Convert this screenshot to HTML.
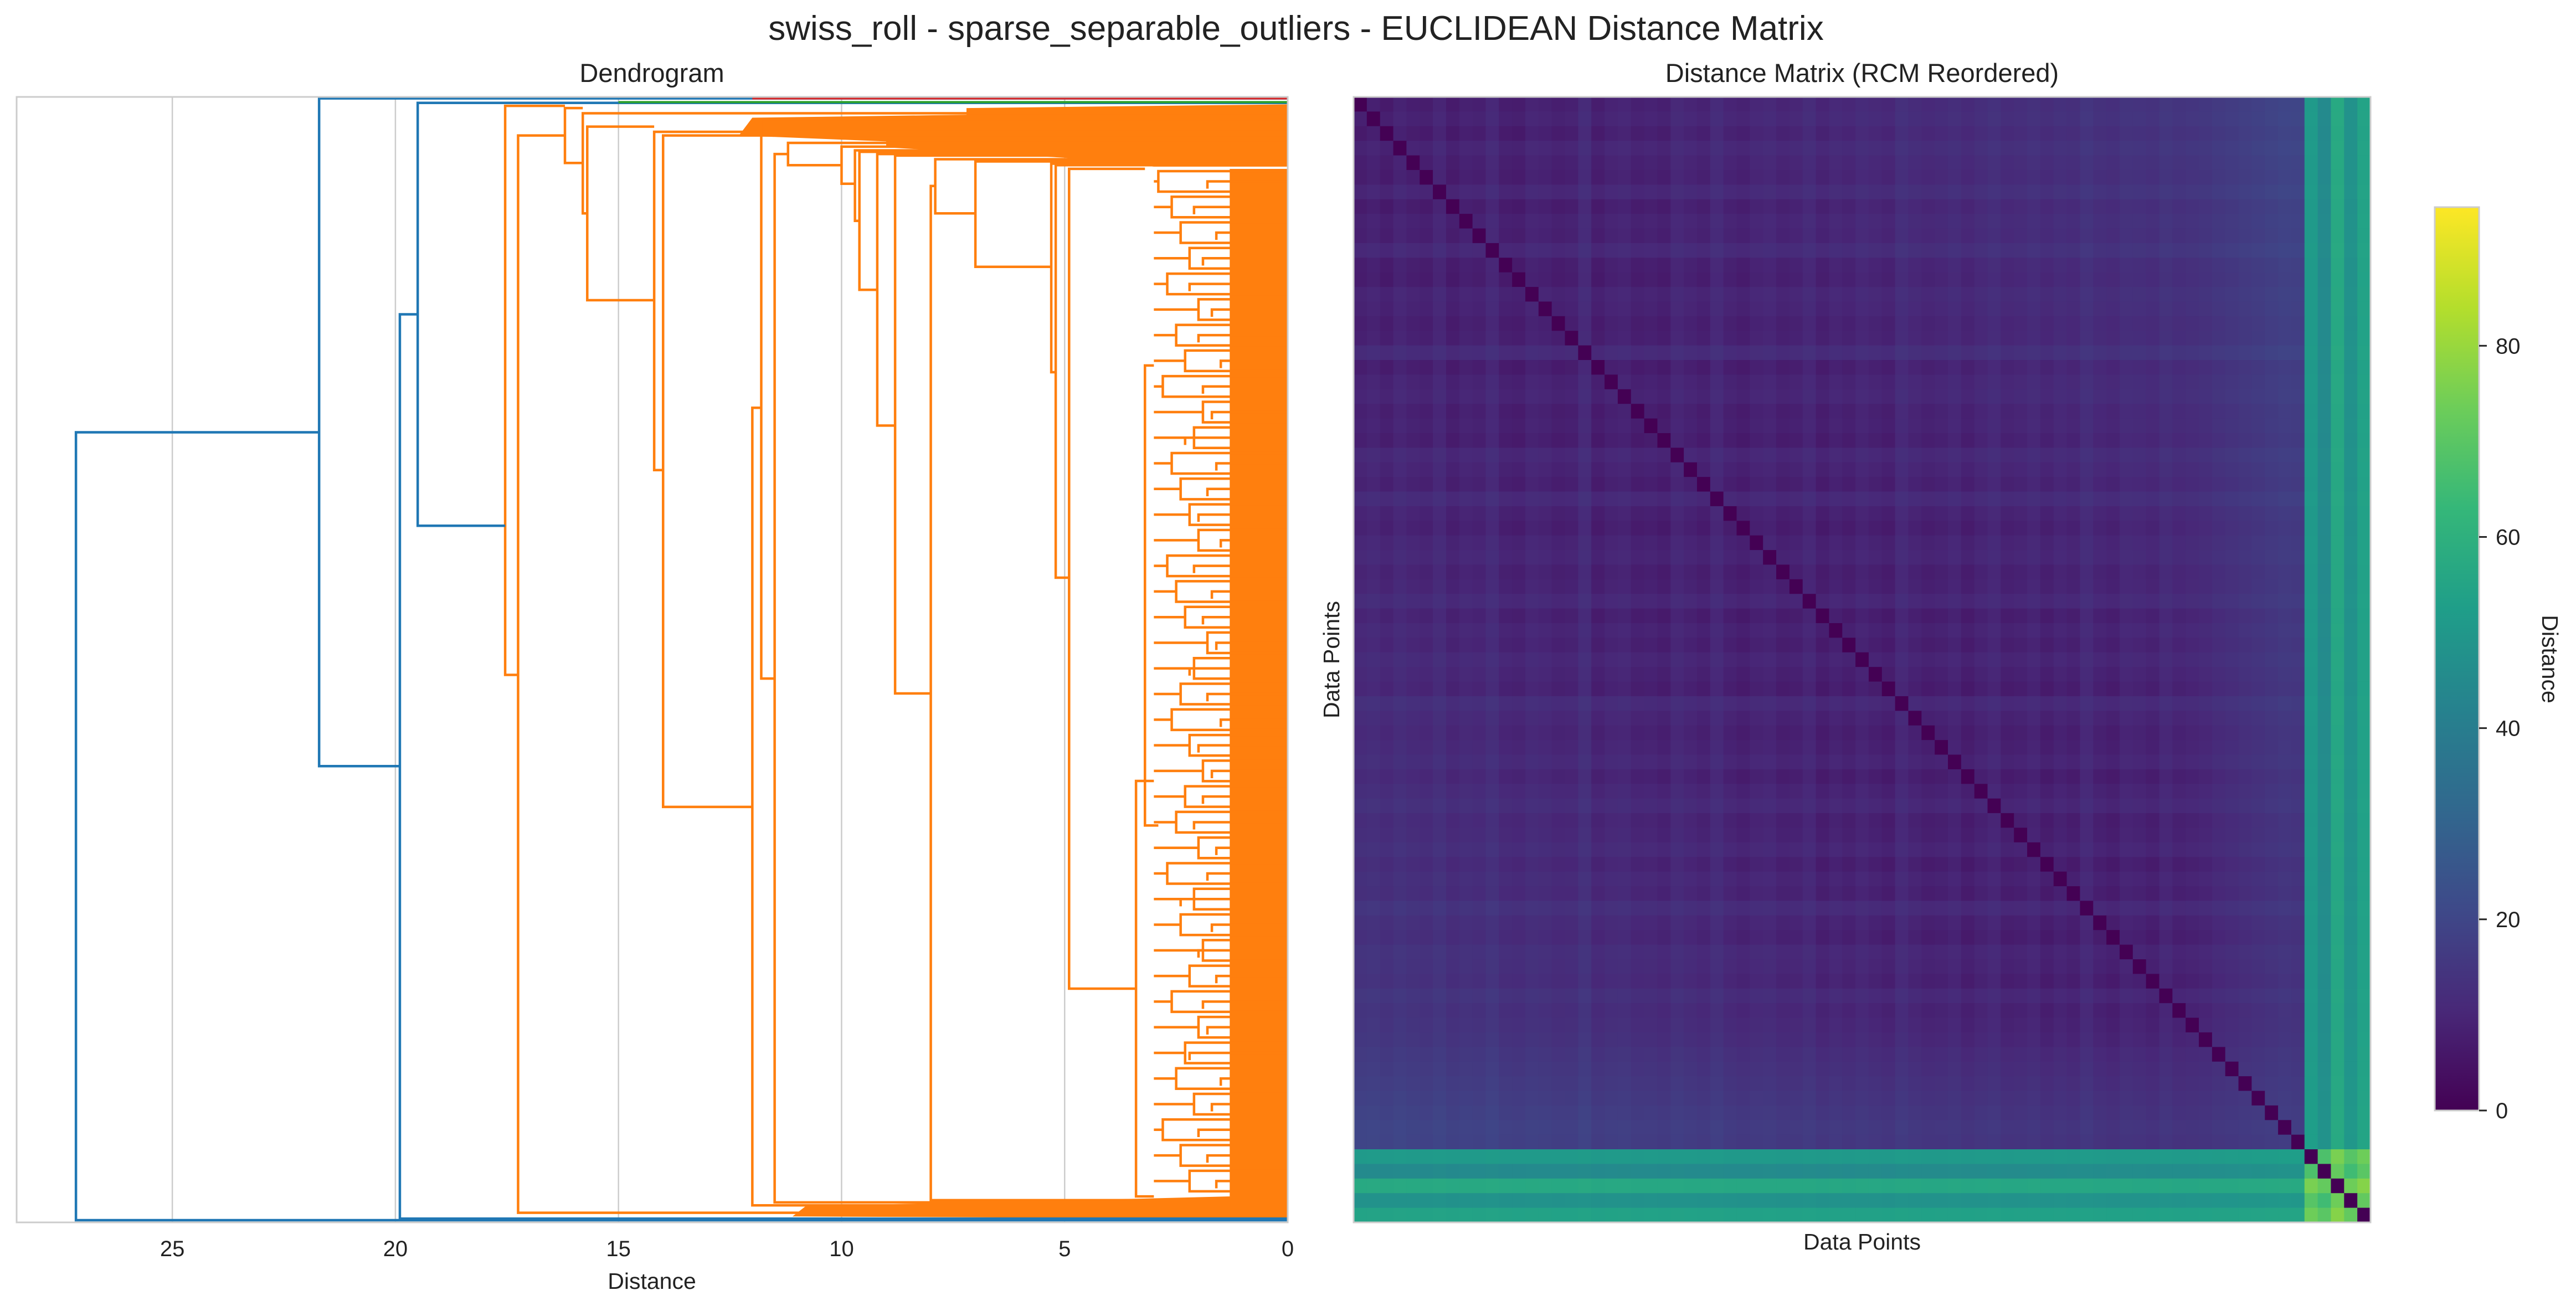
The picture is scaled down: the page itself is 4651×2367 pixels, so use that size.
<!DOCTYPE html>
<html><head><meta charset="utf-8">
<style>
html,body{margin:0;padding:0;background:#fff;}
svg{display:block;font-family:"Liberation Sans","DejaVu Sans",sans-serif;}
</style></head>
<body>
<svg id="fig" width="4651" height="2367" viewBox="0 0 4651 2367" xmlns="http://www.w3.org/2000/svg">
<rect width="4651" height="2367" fill="#fff"/>
<text x="2340" y="72" font-size="62" text-anchor="middle" fill="#222">swiss_roll - sparse_separable_outliers - EUCLIDEAN Distance Matrix</text>
<text x="1177" y="148" font-size="47" text-anchor="middle" fill="#222">Dendrogram</text>
<text x="3362" y="148" font-size="47" text-anchor="middle" fill="#222">Distance Matrix (RCM Reordered)</text>
<g id="dendro"></g>
<g id="heat"></g>
<g id="cbar"></g>
<text x="1177" y="2327" font-size="41" text-anchor="middle" fill="#222">Distance</text>
<text x="3362" y="2256" font-size="41" text-anchor="middle" fill="#222">Data Points</text>
<text x="0" y="0" font-size="41" text-anchor="middle" fill="#222" transform="translate(2418,1191) rotate(-90)">Data Points</text>
<text x="0" y="0" font-size="41" text-anchor="middle" fill="#222" transform="translate(4590,1190) rotate(90)">Distance</text>
</svg>
<script>
// ---------- Dendrogram data ----------
const dendroTicks = [0, 5, 10, 15, 20, 25];
// links: [height, yTop(leaf units), childHeightTop, yBottom, childHeightBottom]
const blueLinks = [
  [27.16, 470, 21.71, 1532, 0],
  [21.71, 20, 0, 920, 19.9],
  [19.9, 311, 19.5, 1530, 0],
  [19.5, 26, 0, 596, 17.54]
];
const orangeLinks = [
  [17.54, 30, 16.2, 797, 17.25],
  [17.25, 70, 16.2, 1522, 0],
  [16.2, 33, 15.8, 107, 15.8],
  [15.8, 40, 0, 175, 15.7],
  [15.7, 58, 14.2, 292, 14.2],
  [14.2, 65, 0, 521, 14.0],
  [14.0, 70, 0, 975, 12.0],
  [12.0, 437, 11.8, 1512, 0],
  [11.8, 48, 0, 802, 11.5],
  [11.5, 95, 11.2, 1508, 0],
  [11.2, 80, 0, 110, 10.0],
  [10.0, 85, 0, 135, 9.7],
  [9.7, 90, 0, 185, 9.6],
  [9.6, 92, 0, 278, 9.2],
  [9.2, 95, 0, 461, 8.8],
  [8.8, 97, 0, 822, 8.0],
  [8.0, 138, 7.9, 1505, 3.3],
  [7.9, 102, 0, 175, 7.0],
  [7.0, 105, 0, 247, 5.3],
  [5.3, 108, 0, 389, 5.2],
  [5.2, 110, 0, 666, 4.9],
  [4.9, 115, 3.2, 1220, 3.4],
  [3.4, 940, 3.0, 1500, 3.0],
  [3.2, 380, 3.0, 1000, 2.9]
];
const subClusterHeights = [2.9,2.6,2.4,2.2,2.7,2.0,2.5,2.3,2.8,1.9,2.1,2.6,2.4,2.2,2.0,2.7,2.5,2.3,1.8,2.1,2.4,2.6,2.2,1.9,2.3,2.5,2.0,2.7,2.1,2.4,1.9,2.2,2.6,2.0,2.3,2.5,2.1,2.8,2.4,2.2];
const subSubHeights = [1.8,2.1,1.6,1.9,2.2,1.7,2.0,1.5,1.9,1.7,2.3,1.6,1.8,2.0,1.5,2.1,1.7,1.9,1.6,2.2,1.8,1.5,2.0,1.7,1.9,2.1,1.6,1.8,2.4,1.7,2.0,1.6,1.9,1.8,2.2,1.5,1.7,2.0,1.8,1.6];
const topMass = [[0,28],[7.2,33],[7.2,42],[12,46],[12.3,70],[9,78],[9,86],[5,100],[3,112],[0,112]];
const bottomMass = [[0,1498],[3.3,1503],[10.8,1513],[11.1,1527],[0,1530]];

// ---------- Heatmap data ----------
const mainPositions = [0,0.5,1.2,1.6,2.4,2.9,3.1,3.8,4.5,4.9,5.6,6.0,6.4,7.3,7.7,8.2,8.9,9.4,9.8,10.5,11.0,11.4,12.1,12.6,13.0,13.8,14.1,14.7,15.3,15.8,16.5,16.9,17.2,18.0,18.6,19.1,19.5,20.2,20.8,21.3,21.7,22.5,23.0,23.4,24.1,24.7,25.2,25.6,26.4,26.9,27.3,28.0,28.6,29.1,29.5,30.2,30.8,31.4,31.9,32.5,33.0,33.6,34.2,34.8,35.5,36.2,37.0,38.1,39.0,40.2,41.5,42.4];
const mainOffsets = [7,9,6,10,8,7,11,6,9,8,12,7,6,10,9,7,8,13,6,9,10,7,8,6,11,9,7,12,8,6,9,10,7,8,11,6,9,7,10,8,6,12,9,7,8,10,6,9,11,7,8,10,6,9,7,12,8,6,10,9,7,11,8,9,10,12,13,14,15,16,17,16];
const outlierPositions = [20,5,33,12,28];
const outlierOffsets = [68,60,75,64,72];
const colorbarTicks = [0, 20, 40, 60, 80];
const vmax = 94.5;

const NS = "http://www.w3.org/2000/svg";
function mk(tag, attrs, parent){const e=document.createElementNS(NS,tag);for(const k in attrs)e.setAttribute(k,attrs[k]);parent.appendChild(e);return e;}

// ---------- Dendrogram ----------
const D = {l:30, r:2325, t:175, b:2207, dmax:28.49};
const xD = d => D.r - d/D.dmax*(D.r-D.l);
const yD = z => D.t + (z-18)/1517*(D.b-D.t);
const dg = document.getElementById('dendro');
dendroTicks.forEach(t=>{
  if(t>0){const g=mk('line',{x1:xD(t),x2:xD(t),y1:D.t,y2:D.b,stroke:'#cccccc','stroke-width':2.5},dg);
  
  }
  const tx=mk('text',{x:xD(t),y:2268,'font-size':40,'text-anchor':'middle',fill:'#222'},dg);
  tx.textContent=t;
  
  
});
function drawMass(pts){
  const p=mk('polygon',{points:pts.map(q=>xD(q[0])+','+yD(q[1])).join(' '),fill:'#ff7f0e'},dg);
  
  
}
drawMass(topMass); drawMass(bottomMass);
const leafBlock=mk('rect',{x:xD(1.3),y:yD(115),width:xD(0)-xD(1.3),height:yD(1500)-yD(115),fill:'#ff7f0e'},dg);


const nSub=subClusterHeights.length;
subClusterHeights.forEach((h,i)=>{
  const z1=118+(1500-118)*i/nSub, z2=118+(1500-118)*(i+0.8)/nSub;
  const h2=subSubHeights[i];
  const zm=(z1+z2)/2;
  const p=mk('path',{d:`M${xD(0)},${yD(z1)}H${xD(h)}V${yD(z2)}H${xD(0)}M${xD(0)},${yD(zm)}H${xD(h2)}V${yD(z2-4)}`,fill:'none',stroke:'#ff7f0e','stroke-width':4.5},dg);
  
  
  const p2=mk('path',{d:`M${xD(h)},${yD(zm)}H${xD(3.0)}`,fill:'none',stroke:'#ff7f0e','stroke-width':4.5},dg);
  
  
});
function drawLinks(arr,color,name){
  arr.forEach(L=>{
    const p=mk('path',{d:`M${xD(L[2])},${yD(L[1])}H${xD(L[0])}V${yD(L[3])}H${xD(L[4])}`,fill:'none',stroke:color,'stroke-width':4.5},dg);
    
    
  });
}
drawLinks(orangeLinks,'#ff7f0e','dendrogram-link-orange');
drawLinks(blueLinks,'#1f77b4','dendrogram-link-blue');
const gl=mk('line',{x1:xD(15),x2:xD(0),y1:yD(25),y2:yD(25),stroke:'#2ca02c','stroke-width':4},dg);


const rl=mk('line',{x1:xD(12),x2:xD(0),y1:yD(20),y2:yD(20),stroke:'#d62728','stroke-width':4},dg);


const dframe=mk('rect',{x:D.l,y:D.t,width:D.r-D.l,height:D.b-D.t,fill:'none',stroke:'#cccccc','stroke-width':3},dg);



// ---------- viridis ----------
const vir=[[68,1,84],[72,40,120],[62,73,137],[49,104,142],[38,130,142],[31,158,137],[53,183,121],[109,205,89],[180,222,44],[253,231,37]];
function viridis(t){t=Math.max(0,Math.min(1,t));const s=t*(vir.length-1),i=Math.min(vir.length-2,Math.floor(s)),f=s-i;
  const c=vir[i].map((v,k)=>Math.round(v+(vir[i+1][k]-v)*f));return `rgb(${c[0]},${c[1]},${c[2]})`;}

// ---------- Heatmap ----------
const H={l:2444,r:4280,t:175,b:2207};
const pos=mainPositions.concat(outlierPositions);
const off=mainOffsets.concat(outlierOffsets);
const N=pos.length;
const cw=(H.r-H.l)/N, ch=(H.b-H.t)/N;
const hg=document.getElementById('heat');
for(let i=0;i<N;i++){for(let j=0;j<N;j++){
  const dp=pos[i]-pos[j];
  const v = i===j ? 0 : Math.sqrt(0.12*dp*dp + 0.55*(off[i]*off[i] + off[j]*off[j]));
  const r=mk('rect',{x:(H.l+j*cw).toFixed(2),y:(H.t+i*ch).toFixed(2),width:(cw+0.6).toFixed(2),height:(ch+0.6).toFixed(2),fill:viridis(v/vmax)},hg);
  
  
}}
const hframe=mk('rect',{x:H.l,y:H.t,width:H.r-H.l,height:H.b-H.t,fill:'none',stroke:'#cccccc','stroke-width':3},hg);



// ---------- Colorbar ----------
const C={l:4396,r:4476,t:374,b:2005};
const cg=document.getElementById('cbar');
const defs=mk('defs',{},cg);
const grad=mk('linearGradient',{id:'vg',x1:0,y1:1,x2:0,y2:0},defs);
vir.forEach((c,i)=>mk('stop',{offset:i/(vir.length-1),'stop-color':`rgb(${c[0]},${c[1]},${c[2]})`},grad));
const cb=mk('rect',{x:C.l,y:C.t,width:C.r-C.l,height:C.b-C.t,fill:'url(#vg)',stroke:'#cccccc','stroke-width':3},cg);


colorbarTicks.forEach(t=>{
  const y=C.b-t/vmax*(C.b-C.t);
  const tk=mk('line',{x1:C.r,x2:C.r+14,y1:y,y2:y,stroke:'#222','stroke-width':3},cg);
  
  
  const tx=mk('text',{x:C.r+30,y:y+14,'font-size':40,fill:'#222'},cg);
  tx.textContent=t;
  
  
});
</script>
</body></html>
